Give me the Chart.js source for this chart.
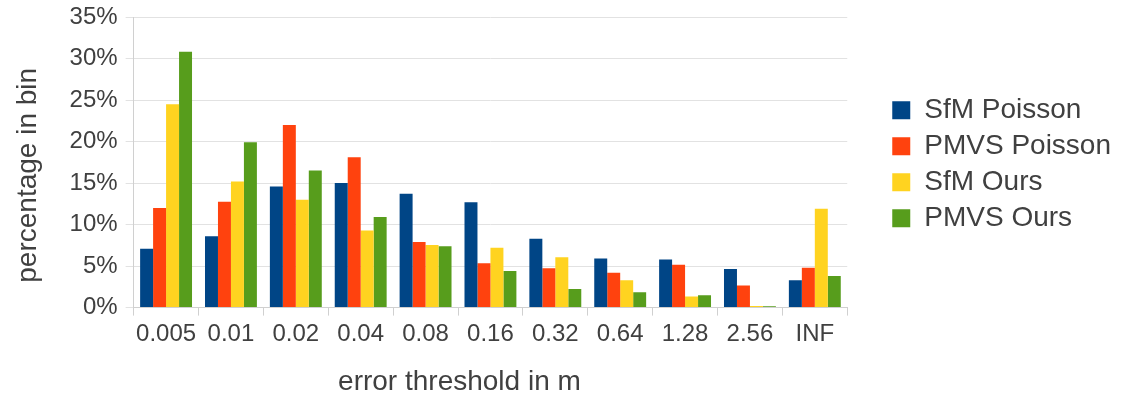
<!DOCTYPE html>
<html>
<head>
<meta charset="utf-8">
<script src="https://cdn.jsdelivr.net/npm/chart.js@4/dist/chart.umd.min.js"></script>
<style>
  html, body { margin: 0; padding: 0; background: #ffffff; }
  #wrap { width: 1121px; height: 396px; position: relative; }
</style>
</head>
<body>
<div id="wrap"><canvas id="chart"></canvas></div>
<script>
// Error thresholds (bin upper bounds, metres)
const thresholds = ['0.005', '0.01', '0.02', '0.04', '0.08', '0.16', '0.32', '0.64', '1.28', '2.56', 'INF'];

// Percentage of points falling in each bin
const sfmPoisson  = [7.1, 8.6, 14.6, 15.0, 13.7, 12.7, 8.3, 5.9, 5.8, 4.65, 3.3];
const pmvsPoisson = [12.0, 12.75, 22.0, 18.1, 7.9, 5.35, 4.75, 4.2, 5.15, 2.65, 4.8];
const sfmOurs     = [24.5, 15.2, 13.0, 9.3, 7.55, 7.2, 6.05, 3.3, 1.35, 0.2, 11.9];
const pmvsOurs    = [30.8, 19.9, 16.5, 10.9, 7.4, 4.4, 2.25, 1.85, 1.5, 0.15, 3.8];

const seriesNames = ['SfM Poisson', 'PMVS Poisson', 'SfM Ours', 'PMVS Ours'];
const seriesColors = ['#004586', '#ff420e', '#ffd320', '#579d1c'];

const FONT = "'Liberation Sans', Arial, sans-serif";
const TEXT = '#404040';
const GRID = '#e2e2e2';
const AXIS = '#d0d0d0';

const seriesValues = [sfmPoisson, pmvsPoisson, sfmOurs, pmvsOurs];

// Nudges the axis titles off the centre of the plot area
const titleShift = {
  id: 'titleShift',
  beforeDraw(chart) {
    const shifts = { x: [-31, 3], y: [0, 13] };
    Object.keys(shifts).forEach(id => {
      const s = chart.scales[id];
      if (!s || s._shifted) return;
      const orig = s.drawTitle.bind(s);
      s.drawTitle = function () {
        const ctx = this.ctx;
        ctx.save();
        ctx.translate(shifts[id][0], shifts[id][1]);
        orig();
        ctx.restore();
      };
      s._shifted = true;
    });
  }
};

// Leaves an empty strip between the plot area and the legend
const LEGEND_GAP = 37;
const LEGEND_DROP = 2;
const legendGap = {
  id: 'legendGap',
  beforeInit(chart) {
    const lg = chart.legend;
    if (!lg) return;
    const fit = lg.fit;
    lg.fit = function () {
      fit.call(this);
      if (this.width) this.width += LEGEND_GAP;
    };
    const draw = lg.draw;
    lg.draw = function () {
      this.left += LEGEND_GAP;
      this.top += LEGEND_DROP;
      this.bottom += LEGEND_DROP;
      draw.call(this);
      this.left -= LEGEND_GAP;
      this.top -= LEGEND_DROP;
      this.bottom -= LEGEND_DROP;
    };
  }
};

new Chart(document.getElementById('chart'), {
  type: 'bar',
  data: {
    labels: thresholds,
    datasets: seriesValues.map((vals, i) => ({
      label: seriesNames[i],
      data: vals,
      backgroundColor: seriesColors[i],
      borderWidth: 0,
      categoryPercentage: 0.8,
      barPercentage: 1.0
    }))
  },
  plugins: [titleShift, legendGap],
  options: {
    responsive: true,
    maintainAspectRatio: false,
    animation: false,
    layout: { padding: { top: 2, left: 11, right: 0, bottom: 0 } },
    plugins: {
      tooltip: { enabled: false },
      legend: {
        position: 'right',
        fullSize: false,
        labels: {
          font: { family: FONT, size: 28 },
          color: TEXT,
          boxWidth: 18,
          boxHeight: 18,
          padding: 8
        }
      }
    },
    scales: {
      x: {
        offset: true,
        grid: {
          offset: true,
          drawOnChartArea: true,
          color: ctx => (ctx.index === 0 || ctx.index === thresholds.length) ? AXIS : 'rgba(0,0,0,0)',
          tickColor: AXIS,
          tickLength: 8
        },
        border: { color: AXIS },
        ticks: {
          font: { family: FONT, size: 24 },
          color: TEXT,
          padding: 4,
          maxRotation: 0,
          autoSkip: false
        },
        title: {
          display: true,
          text: 'error threshold in m',
          font: { family: FONT, size: 28 },
          color: TEXT,
          padding: { top: 10, bottom: 0 }
        }
      },
      y: {
        min: 0,
        max: 35,
        afterFit: s => { s.paddingTop = 17; },
        grid: { color: GRID, tickColor: GRID, tickLength: 8 },
        border: { color: AXIS },
        ticks: {
          stepSize: 5,
          font: { family: FONT, size: 24 },
          color: TEXT,
          padding: 8,
          callback: v => v + '%'
        },
        title: {
          display: true,
          text: 'percentage in bin',
          font: { family: FONT, size: 28 },
          color: TEXT,
          padding: { top: 0, bottom: 17 }
        }
      }
    }
  }
});
</script>
</body>
</html>
